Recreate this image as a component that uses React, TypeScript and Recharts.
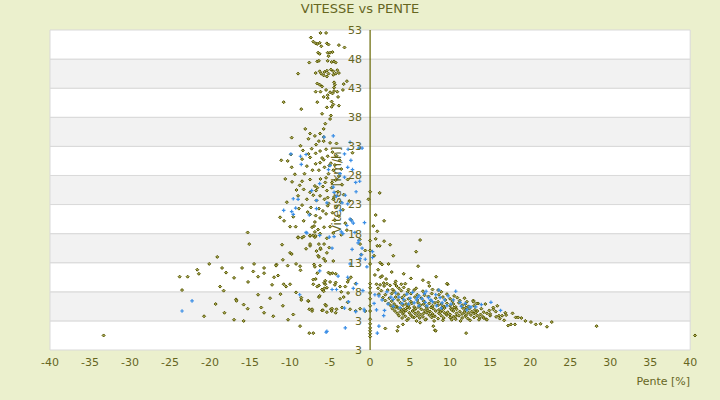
import React from 'react'
import {
  ScatterChart,
  Scatter,
  XAxis,
  YAxis,
  ReferenceArea,
  ReferenceLine,
  ReferenceDot,
} from 'recharts'

type Pt = [number, number]

// x ticks (slope %) and y ticks (speed); last y label reads "3" in the source
const xTicks = [-40, -35, -30, -25, -20, -15, -10, -5, 0, 5, 10, 15, 20, 25, 30, 35, 40]
const yTicks = [-2, 3, 8, 13, 18, 23, 28, 33, 38, 43, 48, 53]
const yTickLabels = ['3', '3', '8', '13', '18', '23', '28', '33', '38', '43', '48', '53']

// olive series: steep descents at high speed
const oliveUpper: Pt[] = [
  [-7.4, 51.7], [-6.2, 52.5], [-5.5, 52.5], [-7.1, 51.0], [-6.8, 50.7], [-6.6, 50.6], [-6.3, 50.8], [-6.1, 50.2],
  [-5.4, 50.7], [-5.2, 50.5], [-3.9, 50.4], [-3.2, 50.0], [-6.5, 49.1], [-6.3, 48.9], [-5.3, 49.1], [-5.0, 49.1],
  [-4.7, 49.2], [-5.2, 48.5], [-7.6, 47.4], [-6.6, 47.6], [-6.4, 47.7], [-5.3, 47.7], [-4.8, 47.5], [-4.5, 47.6],
  [-4.3, 47.4], [-9.0, 45.5], [-6.8, 45.6], [-6.3, 45.9], [-6.1, 45.5], [-5.7, 45.8], [-5.4, 46.0], [-5.2, 45.5],
  [-4.9, 46.2], [-4.6, 45.9], [-4.3, 45.5], [-4.1, 46.1], [-3.9, 45.6], [-5.8, 45.2], [-5.4, 45.0], [-4.6, 45.3],
  [-6.6, 43.8], [-6.3, 43.6], [-6.0, 43.3], [-4.5, 44.0], [-4.4, 43.6], [-4.5, 43.1], [-3.3, 43.7], [-2.9, 44.2],
  [-3.4, 42.7], [-6.8, 42.4], [-6.2, 42.4], [-5.5, 42.7], [-5.0, 42.3], [-4.7, 42.1], [-4.5, 42.5], [-4.1, 42.4],
  [-5.3, 41.8], [-4.0, 41.5], [-10.8, 40.6], [-6.6, 40.6], [-5.3, 41.3], [-4.8, 40.7], [-5.8, 41.5], [-8.6, 39.4],
  [-5.4, 39.7], [-4.8, 39.8], [-4.6, 40.2], [-3.9, 40.0], [-6.0, 38.6], [-4.9, 38.3], [-5.0, 37.7], [-5.6, 36.9],
  [-8.1, 36.0], [-5.8, 36.0],
]

const oliveDescent: Pt[] = [
  [-7.5, 35.2], [-6.9, 34.8], [-6.25, 35.2], [-5.8, 34.6], [-9.8, 34.5], [-7.7, 34.3], [-6.75, 33.3], [-5.8, 33.9],
  [-5.0, 33.6], [-4.2, 33.5], [-8.4, 32.3], [-7.7, 31.7], [-6.8, 31.8], [-6.25, 32.2], [-5.5, 32.5], [-4.7, 32.0],
  [-11.1, 30.6], [-10.3, 30.5], [-9.8, 29.4], [-8.5, 30.8], [-7.5, 31.1], [-6.8, 30.0], [-6.25, 30.2], [-5.8, 30.7],
  [-5.3, 31.3], [-8.2, 28.3], [-7.2, 28.9], [-6.4, 28.9], [-5.7, 29.4], [-5.2, 28.3], [-4.6, 28.9], [-9.75, 26.9],
  [-8.5, 27.0], [-7.5, 27.3], [-6.9, 26.2], [-6.2, 27.4], [-5.6, 26.8], [-4.75, 26.8], [-8.3, 25.6], [-7.5, 25.1],
  [-6.75, 25.4], [-6.25, 24.5], [-5.4, 25.4], [-9.0, 24.5], [-7.9, 23.9], [-6.7, 23.7], [-5.7, 23.9], [-4.6, 23.9],
  [-8.5, 22.9], [-7.4, 22.5], [-6.4, 22.3], [-5.3, 22.8], [-11.25, 20.8], [-10.75, 20.2], [-8.3, 20.2], [-7.5, 21.3],
  [-6.8, 21.1], [-6.25, 20.7], [-5.5, 21.4], [-10.0, 19.2], [-9.3, 19.2], [-7.25, 19.1], [-6.5, 18.7], [-5.75, 19.1],
  [-5.0, 19.2], [-9.0, 17.4], [-8.5, 17.3], [-7.5, 17.6], [-6.9, 17.4], [-6.25, 18.0], [-0.2, 23.9], [0.7, 21.2],
  [1.2, 25.0], [1.75, 20.2], [-4.2, 31.4], [-3.8, 30.6], [-4.4, 29.8], [-3.6, 29.1], [-4.9, 30.1], [-3.9, 27.9],
  [-4.3, 27.2], [-3.5, 26.4], [-4.8, 25.9], [-4.0, 25.2], [-3.3, 24.7], [-4.5, 24.3], [-3.7, 23.4], [-4.2, 22.7],
  [-3.4, 22.1], [-4.7, 21.6], [-3.9, 21.0], [-4.4, 20.3], [-3.1, 19.8], [-5.2, 23.2], [-5.9, 26.1], [-6.0, 31.0],
  [-5.1, 29.7], [-5.5, 27.6], [-6.6, 25.9], [-7.1, 24.6], [-8.8, 26.3], [-9.4, 28.2], [-9.9, 31.6], [-8.7, 33.1],
  [-7.9, 29.6], [-7.3, 32.6], [-6.4, 33.9], [-5.3, 24.2], [-5.9, 21.9], [-6.9, 20.0], [-7.8, 21.7], [-8.9, 22.3],
  [-9.6, 20.9], [-10.4, 23.4], [-9.2, 25.5], [-10.6, 27.4], [-2.8, 27.3], [-2.6, 23.6], [-2.4, 20.4], [-2.9, 18.6],
  [-3.6, 17.8], [-4.6, 18.1], [-5.4, 17.2], [-2.2, 31.9],
]

// olive series: gentle descents, low speed
const oliveLowLeft: Pt[] = [
  [-1.3, 17.0], [-1.25, 16.2], [-0.6, 15.1], [-1.1, 14.4], [0.9, 15.9], [-2.7, 10.1], [-2.4, 10.5], [-2.8, 9.7],
  [-1.8, 9.4], [-3.75, 8.9], [-3.1, 8.9], [-2.75, 7.8], [-3.75, 6.8], [-3.5, 5.3], [-2.5, 5.0], [-1.8, 4.7],
  [-1.25, 5.1], [-0.6, 4.7], [-4.2, 5.0], [-4.9, 5.0], [-5.6, 5.8], [-4.3, 9.6], [-5.0, 9.7], [-4.3, 11.1],
  [-4.7, 11.2], [-5.2, 11.3], [-5.6, 9.9], [-5.4, 8.7], [-6.0, 8.4], [-6.8, 10.2], [-6.6, 8.9], [-5.8, 8.1],
  [-6.4, 7.1], [-3.6, 8.0], [-3.3, 7.1], [-2.8, 6.2], [-7.6, 5.0], [-7.25, 4.7], [-6.0, 4.8], [-5.4, 4.5],
  [-4.75, 5.1], [-7.1, 9.3], [-7.0, 12.7], [-6.25, 12.5], [-6.5, 14.2], [-5.8, 13.7], [-5.1, 15.6], [-5.4, 14.7],
  [-6.2, 15.3], [-6.4, 16.2], [-7.5, 15.9], [-7.1, 17.7], [-6.9, 18.3], [-8.3, 17.5], [-7.5, 17.7], [-9.0, 17.3],
  [-11.0, 16.1], [-10.0, 14.7], [-9.8, 14.5], [-11.7, 12.7], [-10.3, 12.5], [-8.75, 12.4], [-13.25, 12.1], [-13.25, 11.2],
  [-12.0, 10.5], [-11.5, 10.8], [-12.25, 9.2], [-10.8, 9.3], [-10.5, 8.9], [-10.0, 9.3], [-9.25, 7.9], [-8.6, 6.6],
  [-7.7, 6.4], [-13.25, 4.4], [-10.25, 3.2], [-8.75, 2.1], [-7.6, 0.9], [-7.1, 0.9], [-5.6, 9.3],
  [-15.3, 18.2], [-15.1, 16.2], [-19.1, 14.0], [-20.1, 12.8], [-21.6, 11.8], [-21.4, 11.1], [-18.5, 12.1], [-18.0, 11.3],
  [-16.0, 12.1], [-14.5, 12.8], [-14.6, 11.5], [-11.75, 12.5], [-10.9, 13.5], [-9.25, 12.8], [-8.7, 11.7], [-23.8, 10.6],
  [-22.8, 10.6], [-17.0, 10.4], [-14.0, 10.6], [-15.25, 9.7], [-23.5, 8.3], [-18.75, 8.9], [-18.3, 8.2], [-14.0, 7.5],
  [-8.6, 7.0], [-7.75, 6.45], [-16.75, 6.7], [-16.7, 6.45], [-19.3, 5.9], [-15.8, 5.8], [-15.3, 5.1], [-18.2, 4.4],
  [-20.75, 3.8], [-17.0, 3.2], [-15.8, 3.0], [-7.5, 16.2], [-6.8, 17.6], [-7.0, 19.3], [-8.0, 15.4], [-6.7, 15.0],
  [-6.2, 15.5], [-5.75, 16.2], [-6.4, 14.0], [-5.6, 13.3], [-4.6, 13.3], [-6.9, 12.3], [-6.6, 11.2], [-5.0, 11.1],
  [-7.1, 10.1], [-6.4, 9.1], [-5.75, 9.55], [-5.7, 8.6], [-4.4, 9.2], [-6.3, 7.3], [-5.5, 5.6], [-7.25, 5.0],
  [-4.8, 4.7], [-5.9, 4.85], [-4.3, 4.4], [-12.5, 6.9], [-11.2, 7.6], [-13.6, 5.3], [-12.1, 3.8], [-9.6, 4.1],
  [-10.9, 5.6], [-33.3, 0.5],
]

// olive series: flat ground and the zero-slope column
const oliveAxis: Pt[] = [
  [0, 25.2], [0, 16.8], [0, 15.1], [0, 12.8], [0, 9.4], [0, 8.7], [0, 7.8], [0, 6.8], [0, 5.6], [0, 4.7],
  [0, 3.3], [0, 2.5], [0, 1.8], [0, 1.3], [0, 0.8], [0, 0.3],
  [0.7, 17.1], [1.2, 15.9], [1.75, 16.7], [2.5, 16.1], [6.25, 16.9], [5.75, 14.9], [6.0, 12.4], [1.25, 13.0],
  [1.5, 12.7], [2.3, 12.8], [2.7, 11.4], [4.2, 11.1], [1.3, 10.5], [8.25, 10.6], [9.7, 9.3], [8.5, 8.3],
  [0.4, 19.3], [0.9, 18.4], [0.5, 14.2], [1.0, 11.8], [0.6, 10.9], [2.0, 10.2], [3.2, 9.8], [1.7, 9.5],
  [5.1, 10.3], [4.4, 9.4], [6.6, 10.0], [7.3, 9.6], [2.9, 14.2],
]

// olive series: climbs, upper band
const oliveClimbHigh: Pt[] = [
  [0.8, 9.3], [1.25, 9.2], [1.75, 9.0], [2.1, 9.4], [2.5, 9.1], [3.1, 9.4], [3.3, 9.0], [3.9, 9.3], [4.2, 8.75],
  [5.75, 8.6], [7.4, 9.0], [1.5, 10.7], [1.0, 8.6], [2.8, 8.4], [3.6, 8.6], [4.8, 8.4],
  [1.4, 8.2], [2.2, 8.3], [3.0, 8.1], [3.9, 8.2], [4.7, 8.0], [5.5, 8.3], [6.6, 8.1], [7.8, 8.4], [8.9, 8.0],
  [1.1, 7.6], [1.9, 7.5], [2.7, 7.7], [3.5, 7.6], [4.3, 7.4], [5.1, 7.7], [5.9, 7.5], [6.8, 7.4], [7.7, 7.7],
  [8.6, 7.5], [9.6, 7.6], [10.5, 7.3], [1.6, 7.0], [2.4, 6.9], [3.2, 7.1], [4.0, 7.0], [4.8, 6.8], [5.6, 7.1],
  [6.4, 6.9], [7.3, 7.2], [8.2, 6.9], [9.1, 7.1], [10.0, 6.8], [10.9, 7.0], [11.8, 6.9], [1.9, 6.5], [2.7, 6.4],
  [3.5, 6.6], [4.3, 6.5], [5.1, 6.3], [5.9, 6.6], [6.7, 6.4], [7.6, 6.5], [8.5, 6.3], [9.4, 6.6], [10.3, 6.4],
  [11.2, 6.5], [12.1, 6.3], [12.9, 6.5],
]

// olive series: climbs, dense core
const oliveClimbCore: Pt[] = [
  [2.3, 6.0], [3.0, 5.9], [3.8, 6.1], [4.5, 5.9], [5.2, 6.0], [6.0, 6.1], [6.7, 5.9], [7.4, 6.0], [8.1, 6.1],
  [8.9, 5.9], [9.6, 6.0], [10.4, 5.9], [11.1, 6.1], [11.9, 5.9], [13.5, 6.0],
  [2.6, 5.6], [3.3, 5.5], [4.1, 5.7], [4.8, 5.6], [5.5, 5.4], [6.3, 5.7], [7.0, 5.5], [7.8, 5.6], [8.5, 5.7],
  [9.2, 5.5], [10.0, 5.6], [10.7, 5.4], [11.5, 5.7], [12.3, 5.5], [13.0, 5.6],
  [2.8, 5.1], [3.5, 5.2], [4.2, 5.0], [4.9, 5.2], [5.7, 5.1], [6.4, 5.0], [7.1, 5.2], [7.9, 5.1], [8.6, 4.9],
  [9.3, 5.2], [10.1, 5.1], [10.8, 5.0], [11.6, 5.2], [12.4, 5.1], [13.1, 4.9], [13.9, 5.1],
  [3.1, 4.7], [3.8, 4.6], [4.5, 4.8], [5.3, 4.7], [6.0, 4.5], [6.8, 4.8], [7.5, 4.6], [8.2, 4.7], [9.0, 4.8],
  [9.7, 4.5], [10.4, 4.7], [11.2, 4.6], [11.9, 4.8], [12.7, 4.6], [13.4, 4.7], [14.2, 4.5],
  [3.4, 4.3], [4.1, 4.2], [4.9, 4.4], [5.6, 4.3], [6.3, 4.1], [7.1, 4.4], [7.8, 4.2], [8.6, 4.3], [9.3, 4.4],
  [10.0, 4.1], [10.8, 4.3], [11.5, 4.2], [12.3, 4.4], [13.0, 4.3], [13.8, 4.1], [14.6, 4.3],
  [3.6, 3.9], [4.4, 3.8], [5.1, 4.0], [5.9, 3.9], [6.6, 3.7], [7.4, 4.0], [8.1, 3.8], [8.9, 3.9], [9.6, 4.0],
  [10.4, 3.7], [11.1, 3.9], [11.9, 3.8], [12.6, 4.0], [13.4, 3.9], [14.1, 3.7], [15.0, 3.9],
  [4.0, 3.5], [4.8, 3.4], [5.5, 3.6], [6.2, 3.5], [7.0, 3.3], [7.7, 3.6], [8.5, 3.4], [9.2, 3.5], [10.0, 3.6],
  [10.7, 3.3], [11.5, 3.5], [12.2, 3.4], [13.0, 3.6], [13.7, 3.5], [14.5, 3.3],
  [4.6, 3.1], [5.8, 3.0], [6.9, 3.2], [8.0, 3.0], [9.1, 3.1], [10.2, 3.2], [11.3, 3.0], [12.5, 3.1], [13.6, 3.2],
  [3.2, 5.4], [4.6, 5.3], [6.1, 5.4], [7.6, 5.3], [9.0, 5.3], [10.5, 5.3], [12.0, 5.3], [3.9, 4.9], [5.5, 4.9],
  [7.2, 4.8], [8.8, 4.5], [10.2, 4.9], [11.8, 4.5], [4.2, 4.5], [6.7, 4.3], [9.5, 4.2], [12.0, 4.0], [5.3, 3.7],
  [7.9, 3.9], [10.7, 3.8], [13.2, 4.4],
]

// olive series: steep climbs tail
const oliveTail: Pt[] = [
  [14.2, 3.5], [14.6, 3.2], [15.0, 4.2], [15.4, 5.0], [15.4, 5.3], [15.75, 3.7], [16.1, 3.9], [16.5, 3.9],
  [16.9, 4.4], [16.75, 3.1], [17.25, 2.2], [17.6, 2.4], [17.8, 4.3], [18.1, 2.4], [18.2, 3.6], [18.5, 3.6],
  [18.9, 3.5], [20.1, 2.8], [20.7, 2.4], [22.1, 2.0], [22.7, 2.8], [28.3, 2.1], [40.6, 0.5], [14.9, 4.8],
  [15.7, 4.6], [16.2, 3.4], [17.0, 4.0], [19.4, 3.0], [21.3, 2.5], [12.9, 6.3], [13.3, 6.0], [14.4, 5.9],
  [15.9, 5.6], [12.0, 0.9], [8.1, 1.4], [3.5, 2.0], [3.4, 1.3], [4.1, 2.4], [6.25, 2.7], [7.9, 2.1],
  [8.2, 1.3], [9.6, 9.4], [1.9, 1.7],
]

// blue series
const blueDescent: Pt[] = [
  [-9.9, 31.7], [-8.7, 31.3], [-8.0, 31.6], [-8.6, 29.9], [-4.6, 34.8], [-5.75, 34.6], [-2.5, 33.7], [-2.75, 32.5],
  [-1.4, 32.7], [-1.0, 32.7], [-3.2, 31.7], [-2.4, 30.6], [-2.8, 29.4], [-2.2, 29.0], [-5.0, 29.7], [-5.2, 29.0],
  [-3.75, 28.3], [-6.3, 26.6], [-4.6, 26.0], [-3.2, 27.7], [-1.8, 26.8], [-1.3, 27.0], [-1.75, 25.2], [-7.3, 25.4],
  [-6.7, 23.7], [-9.6, 24.0], [-9.0, 23.9], [-4.5, 25.1], [-4.2, 24.4], [-3.1, 24.6], [-3.5, 23.3], [-2.8, 23.1],
  [-5.4, 23.3], [-10.8, 22.0], [-9.8, 21.8], [-9.3, 22.4], [-9.6, 21.3], [-7.6, 21.2], [-6.7, 22.3], [-3.7, 22.0],
  [-2.3, 20.2], [-2.5, 20.5], [-2.1, 19.8], [-2.9, 19.4], [-0.7, 19.9], [-8.0, 18.2], [-6.3, 17.7], [-5.1, 17.4],
  [-3.6, 18.3],
]

const blueNearAxis: Pt[] = [
  [-0.9, 8.2], [0.6, 7.5], [0.5, 6.0], [0.8, 4.9], [1.1, 2.1], [0.9, 0.9], [-0.75, 5.0], [0.3, 13.9], [0.3, 14.9],
  [-0.4, 12.3], [-1.7, 9.4], [-1.8, 4.6], [-3.1, 1.8], [-1.5, 16.4], [-2.25, 15.3], [-1.0, 15.5], [-1.1, 14.4],
  [-2.5, 12.8], [-2.8, 10.5], [-2.1, 8.6], [-4.2, 8.4], [-2.7, 6.3], [-3.2, 5.2], [-4.5, 17.5], [-3.4, 18.0],
  [-8.8, 7.5], [-6.3, 11.6], [-4.75, 8.4], [-4.0, 10.7], [-5.4, 1.2], [-0.7, 4.7], [-1.25, 13.7], [-0.6, 13.6],
  [-7.9, 18.1], [-1.9, 18.2], [-1.4, 16.8], [-22.25, 6.45], [-23.5, 4.7], [-4.75, 15.5], [-5.5, 1.05],
]

const blueClimb: Pt[] = [
  [1.1, 7.3], [2.1, 8.0], [2.6, 7.1], [2.9, 6.7], [3.6, 7.1], [4.2, 6.7], [4.6, 7.6], [5.0, 6.9], [5.5, 6.1],
  [6.1, 7.3], [6.5, 6.8], [6.9, 6.2], [7.3, 7.0], [7.8, 6.3], [8.3, 5.6], [8.75, 7.0], [9.3, 6.6], [9.75, 7.3],
  [10.1, 5.9], [10.7, 8.1], [11.25, 6.2], [11.4, 5.5], [12.6, 5.4], [13.2, 5.4], [8.6, 8.3], [2.9, 5.5],
  [2.25, 5.9], [1.8, 4.8], [1.7, 3.9], [3.75, 5.3], [4.8, 5.9], [5.8, 6.6], [7.1, 5.6], [8.2, 7.5], [6.1, 5.6],
  [9.6, 5.6], [16.3, 4.8], [12.4, 5.4], [5.3, 7.9], [6.8, 7.7], [7.6, 6.6], [4.0, 6.0], [5.9, 7.0], [9.0, 6.1],
  [10.4, 6.6], [3.2, 7.8], [1.5, 6.6], [7.0, 8.1], [8.9, 5.2], [11.9, 6.0], [12.1, 4.9], [13.9, 5.8], [15.1, 6.2],
]

const toPoints = (pts: Pt[]) => pts.map(([x, y]) => ({ x, y }))

const oliveData = toPoints([
  ...oliveUpper,
  ...oliveDescent,
  ...oliveLowLeft,
  ...oliveAxis,
  ...oliveClimbHigh,
  ...oliveClimbCore,
  ...oliveTail,
])
const blueData = toPoints([...blueDescent, ...blueNearAxis, ...blueClimb])

const TEXT = '#66661f'
const BG = '#ebf0cd'

interface MarkProps {
  cx?: number
  cy?: number
}

function OliveMark({ cx = 0, cy = 0 }: MarkProps) {
  const r = 1.5
  return (
    <path
      d={`M${cx},${cy - r}L${cx + r},${cy}L${cx},${cy + r}L${cx - r},${cy}Z`}
      fill="#a9a955"
      stroke="#565600"
      strokeWidth={1}
    />
  )
}

function BlueMark({ cx = 0, cy = 0 }: MarkProps) {
  const r = 1.8
  return (
    <path
      d={`M${cx - r},${cy}H${cx + r}M${cx},${cy - r}V${cy + r}`}
      stroke="#3a8ee6"
      strokeWidth={1.2}
      fill="none"
    />
  )
}

// rotated axis title that sits just left of the zero line
function SpeedTitle(props: any) {
  const vb = props.viewBox || {}
  const x = (vb.x ?? 0) - 33
  const y = (vb.y ?? 0) + (vb.height ?? 0) / 2
  return (
    <text
      x={x}
      y={y}
      transform={`rotate(-90 ${x} ${y})`}
      textAnchor="middle"
      dominantBaseline="central"
      fill={TEXT}
      fontSize={12}
    >
      Vitesse [km/h]
    </text>
  )
}

export default function App() {
  const bands = yTicks.slice(0, -1).map((lo, i) => ({ lo, hi: yTicks[i + 1], idx: i }))

  return (
    <div
      style={{
        position: 'absolute',
        left: 0,
        top: 0,
        width: 720,
        height: 400,
        background: BG,
        fontFamily: '"DejaVu Sans", Verdana, sans-serif',
      }}
    >
      <div
        style={{
          position: 'absolute',
          top: 1,
          left: 0,
          width: 720,
          textAlign: 'center',
          fontSize: 13,
          color: TEXT,
        }}
      >
        VITESSE vs PENTE
      </div>
      <ScatterChart width={720} height={400} margin={{ top: 30, right: 25, bottom: 10, left: 50 }}>
        <XAxis
          type="number"
          dataKey="x"
          domain={[-40, 'dataMax']}
          ticks={xTicks}
          interval={0}
          axisLine={false}
          tickLine={false}
          height={40}
          tick={{ fill: TEXT, fontSize: 11 }}
          label={{ value: 'Pente [%]', position: 'insideBottomRight', offset: 5, fill: TEXT, fontSize: 11 }}
        />
        <YAxis type="number" dataKey="y" domain={[-2, 53]} ticks={yTicks} hide />
        {bands.map((b) => (
          <ReferenceArea
            key={b.lo}
            x1={-40}
            x2={40}
            y1={b.lo}
            y2={b.hi}
            fill={(bands.length - 1 - b.idx) % 2 === 0 ? '#ffffff' : '#f2f2f2'}
            fillOpacity={1}
            stroke="#d9d9d9"
            strokeWidth={1}
          />
        ))}
        <ReferenceLine x={0} stroke="#666600" strokeWidth={1.2} label={(p: any) => <SpeedTitle {...p} />} />
        <Scatter
          data={oliveData}
          isAnimationActive={false}
          shape={(p: any) => <OliveMark cx={p.cx} cy={p.cy} />}
        />
        <Scatter
          data={blueData}
          isAnimationActive={false}
          shape={(p: any) => <BlueMark cx={p.cx} cy={p.cy} />}
        />
        {yTicks.map((v, i) => (
          <ReferenceDot
            key={v}
            x={0}
            y={v}
            r={0}
            fill="none"
            stroke="none"
            label={{ value: yTickLabels[i], position: 'left', offset: 8, fill: TEXT, fontSize: 11 }}
          />
        ))}
      </ScatterChart>
    </div>
  )
}
